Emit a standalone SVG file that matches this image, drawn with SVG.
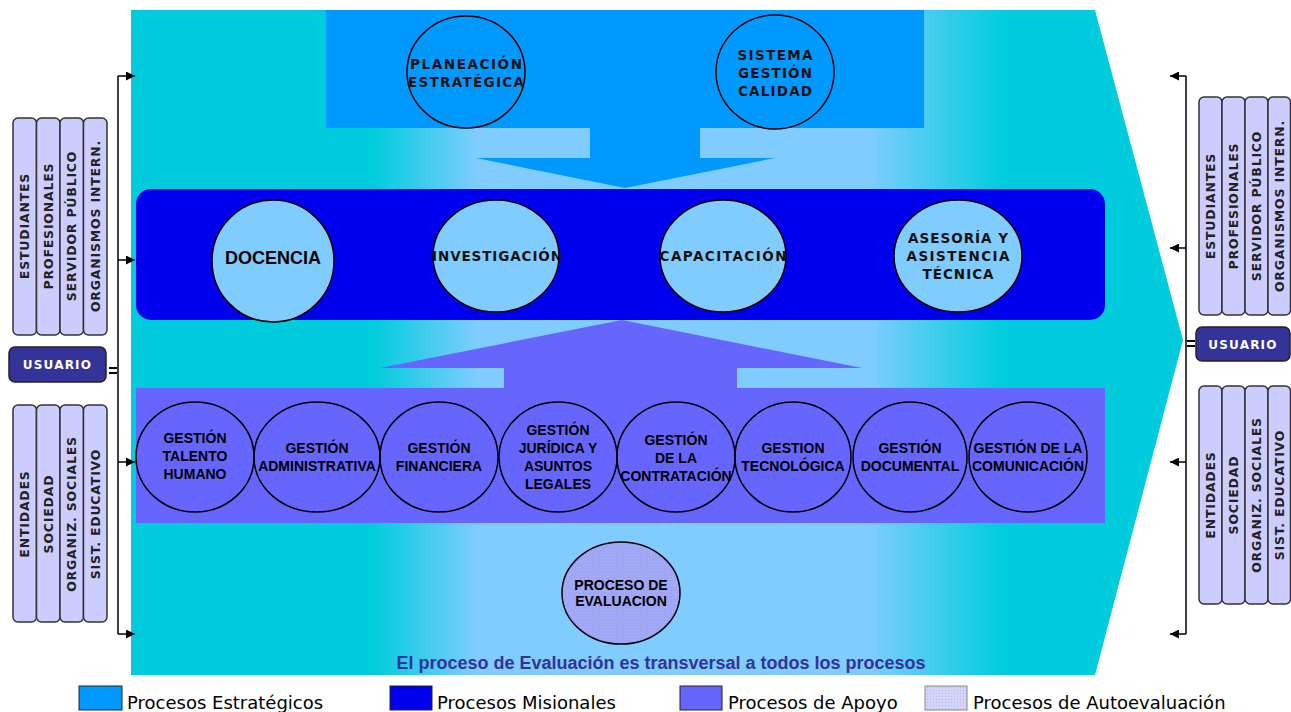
<svg xmlns="http://www.w3.org/2000/svg" width="1291" height="712" viewBox="0 0 1291 712">
<defs>
<linearGradient id="bg" x1="131" y1="0" x2="1183" y2="0" gradientUnits="userSpaceOnUse">
<stop offset="0" stop-color="#00CCDD"/>
<stop offset="0.23" stop-color="#00CCDD"/>
<stop offset="0.33" stop-color="#80CCFF"/>
<stop offset="0.70" stop-color="#80CCFF"/>
<stop offset="0.83" stop-color="#00CCDD"/>
<stop offset="1" stop-color="#00CCDD"/>
</linearGradient>
<pattern id="dots" width="3" height="3" patternUnits="userSpaceOnUse">
<rect width="3" height="3" fill="#A0A6F6"/>
<rect width="1" height="1" fill="#ABB0F8"/>
</pattern>
<pattern id="dots2" width="3" height="3" patternUnits="userSpaceOnUse">
<rect width="3" height="3" fill="#D4D4FA"/>
<rect width="1" height="1" fill="#B8B8F0"/>
</pattern>
<marker id="ah" viewBox="0 0 10 10" refX="10" refY="5" markerWidth="10" markerHeight="9" markerUnits="userSpaceOnUse" orient="auto">
<path d="M0,0 L10,5 L0,10 Z" fill="#000"/>
</marker>
</defs>
<style>
.circ{stroke:#000;stroke-width:1.5}
.vt{font-family:Verdana,"DejaVu Sans",sans-serif;font-weight:bold;font-size:13.5px;fill:#111;text-anchor:middle}
.at{font-family:"Liberation Sans",Arial,sans-serif;font-weight:bold;font-size:14px;fill:#000;text-anchor:middle}
.side{fill:#CCCCFF;stroke:#333;stroke-width:1.5}
.st{font-family:Verdana,"DejaVu Sans",sans-serif;font-weight:bold;font-size:12.5px;letter-spacing:0.8px;fill:#222;text-anchor:middle}
.usr{fill:#333399;stroke:#222;stroke-width:1.5}
.ut{font-family:Verdana,"DejaVu Sans",sans-serif;font-weight:bold;font-size:12px;letter-spacing:1.2px;fill:#fff;text-anchor:middle}
.lg{font-family:Tahoma,"DejaVu Sans",sans-serif;font-size:18px;fill:#000}
.conn{stroke:#000;stroke-width:1.5;fill:none}
</style>

<!-- background arrow -->
<g id="background">
<path d="M131,10 L1095,10 L1183,340 L1095,675 L131,675 Z" fill="url(#bg)"/>
</g>

<!-- strategic processes -->
<g id="estrategicos">
<rect x="326" y="10" width="598" height="118" fill="#0099FF"/>
<path d="M590,128 L700,128 L700,158 L775,158 L625,188 L476,158 L590,158 Z" fill="#0099FF"/>
</g>
<g id="planeacion">
<ellipse cx="466" cy="72" rx="59" ry="56" fill="#0099FF" class="circ"/>
<text class="vt" x="466" y="69" textLength="112" lengthAdjust="spacing">PLANEACIÓN</text>
<text class="vt" x="466" y="87" textLength="116" lengthAdjust="spacing">ESTRATÉGICA</text>
</g>
<g id="sistema">
<ellipse cx="775" cy="72" rx="59" ry="57" fill="#0099FF" class="circ"/>
<text class="vt" x="775" y="60" textLength="75" lengthAdjust="spacing">SISTEMA</text>
<text class="vt" x="775" y="78" textLength="74" lengthAdjust="spacing">GESTIÓN</text>
<text class="vt" x="775" y="96" textLength="74" lengthAdjust="spacing">CALIDAD</text>
</g>

<!-- mission processes -->
<g id="misionales">
<rect x="136" y="189" width="969" height="131" rx="15" fill="#0000EE"/>
</g>
<g id="docencia">
<ellipse cx="273" cy="261" rx="61" ry="61" fill="#80CCFF" class="circ"/>
<text x="273" y="264" text-anchor="middle" font-family="Liberation Sans, Arial, sans-serif" font-weight="bold" font-size="18" fill="#000">DOCENCIA</text>
</g>
<g id="investigacion">
<ellipse cx="496" cy="256" rx="63" ry="56" fill="#80CCFF" class="circ"/>
<text class="vt" x="497" y="261" textLength="130" lengthAdjust="spacing">INVESTIGACIÓN</text>
</g>
<g id="capacitacion">
<ellipse cx="723" cy="256" rx="63" ry="56" fill="#80CCFF" class="circ"/>
<text class="vt" x="723" y="261" textLength="127" lengthAdjust="spacing">CAPACITACIÓN</text>
</g>
<g id="asesoria">
<ellipse cx="958" cy="256" rx="64" ry="56" fill="#80CCFF" class="circ"/>
<text class="vt" x="958" y="243" textLength="100" lengthAdjust="spacing">ASESORÍA Y</text>
<text class="vt" x="958" y="261" textLength="103" lengthAdjust="spacing">ASISTENCIA</text>
<text class="vt" x="958" y="279" textLength="71" lengthAdjust="spacing">TÉCNICA</text>
</g>

<!-- support processes -->
<g id="apoyo">
<path d="M504,388 L504,368 L380,368 L622,320 L862,368 L737,368 L737,388 Z" fill="#6666FF"/>
<rect x="136" y="388" width="969" height="135" fill="#6666FF"/>
</g>
<g id="talento">
<ellipse cx="195" cy="457" rx="59" ry="55" fill="none" class="circ"/>
<text class="at" x="195" y="443">GESTIÓN</text>
<text class="at" x="195" y="461">TALENTO</text>
<text class="at" x="195" y="479">HUMANO</text>
</g>
<g id="administrativa">
<ellipse cx="317" cy="457" rx="63" ry="55" fill="none" class="circ"/>
<text class="at" x="317" y="453">GESTIÓN</text>
<text class="at" x="317" y="471">ADMINISTRATIVA</text>
</g>
<g id="financiera">
<ellipse cx="439" cy="457" rx="59" ry="55" fill="none" class="circ"/>
<text class="at" x="439" y="453">GESTIÓN</text>
<text class="at" x="439" y="471">FINANCIERA</text>
</g>
<g id="juridica">
<ellipse cx="558" cy="457" rx="59" ry="55" fill="none" class="circ"/>
<text class="at" x="558" y="435">GESTIÓN</text>
<text class="at" x="558" y="453">JURÍDICA Y</text>
<text class="at" x="558" y="471">ASUNTOS</text>
<text class="at" x="558" y="489">LEGALES</text>
</g>
<g id="contratacion">
<ellipse cx="676" cy="457" rx="59" ry="55" fill="none" class="circ"/>
<text class="at" x="676" y="445">GESTIÓN</text>
<text class="at" x="676" y="463">DE LA</text>
<text class="at" x="676" y="481">CONTRATACIÓN</text>
</g>
<g id="tecnologica">
<ellipse cx="793" cy="457" rx="58" ry="55" fill="none" class="circ"/>
<text class="at" x="793" y="453">GESTION</text>
<text class="at" x="793" y="471">TECNOLÓGICA</text>
</g>
<g id="documental">
<ellipse cx="910" cy="457" rx="57" ry="55" fill="none" class="circ"/>
<text class="at" x="910" y="453">GESTIÓN</text>
<text class="at" x="910" y="471">DOCUMENTAL</text>
</g>
<g id="comunicacion">
<ellipse cx="1028" cy="457" rx="59" ry="55" fill="none" class="circ"/>
<text class="at" x="1028" y="453">GESTIÓN DE LA</text>
<text class="at" x="1028" y="471">COMUNICACIÓN</text>
</g>

<!-- evaluation -->
<g id="evaluacion">
<ellipse cx="621" cy="593" rx="59" ry="51" fill="url(#dots)" class="circ"/>
<text class="at" x="621" y="590">PROCESO DE</text>
<text class="at" x="621" y="606">EVALUACION</text>
</g>
<g id="nota">
<text x="661" y="669" text-anchor="middle" font-family="Liberation Sans, Arial, sans-serif" font-weight="bold" font-size="18" fill="#333399">El proceso de Evaluación es transversal a todos los procesos</text>
</g>

<!-- left users -->
<g id="usuarios-izq-1">
<rect class="side" x="13" y="118" width="23.5" height="217" rx="5"/>
<rect class="side" x="36.5" y="118" width="23.5" height="217" rx="5"/>
<rect class="side" x="60" y="118" width="23.5" height="217" rx="5"/>
<rect class="side" x="83.5" y="118" width="23.5" height="217" rx="5"/>
<text class="st" transform="translate(29,226) rotate(-90)">ESTUDIANTES</text>
<text class="st" transform="translate(52.5,226) rotate(-90)">PROFESIONALES</text>
<text class="st" transform="translate(76,226) rotate(-90)">SERVIDOR PÚBLICO</text>
<text class="st" transform="translate(99.5,226) rotate(-90)">ORGANISMOS INTERN.</text>
</g>
<g id="usuario-izq">
<rect class="usr" x="9" y="347" width="97" height="35" rx="6"/>
<text class="ut" x="57.5" y="369">USUARIO</text>
</g>
<g id="usuarios-izq-2">
<rect class="side" x="13" y="405" width="23.5" height="217" rx="5"/>
<rect class="side" x="36.5" y="405" width="23.5" height="217" rx="5"/>
<rect class="side" x="60" y="405" width="23.5" height="217" rx="5"/>
<rect class="side" x="83.5" y="405" width="23.5" height="217" rx="5"/>
<text class="st" transform="translate(29,514) rotate(-90)">ENTIDADES</text>
<text class="st" transform="translate(52.5,514) rotate(-90)">SOCIEDAD</text>
<text class="st" transform="translate(76,514) rotate(-90)">ORGANIZ. SOCIALES</text>
<text class="st" transform="translate(99.5,514) rotate(-90)">SIST. EDUCATIVO</text>
</g>

<!-- right users -->
<g id="usuarios-der-1">
<rect class="side" x="1199" y="97" width="23" height="218" rx="5"/>
<rect class="side" x="1222" y="97" width="23" height="218" rx="5"/>
<rect class="side" x="1245" y="97" width="23" height="218" rx="5"/>
<rect class="side" x="1268" y="97" width="22.5" height="218" rx="5"/>
<text class="st" transform="translate(1215,206) rotate(-90)">ESTUDIANTES</text>
<text class="st" transform="translate(1238,206) rotate(-90)">PROFESIONALES</text>
<text class="st" transform="translate(1261,206) rotate(-90)">SERVIDOR PÚBLICO</text>
<text class="st" transform="translate(1284,206) rotate(-90)">ORGANISMOS INTERN.</text>
</g>
<g id="usuario-der">
<rect class="usr" x="1196" y="327" width="94" height="34" rx="6"/>
<text class="ut" x="1243" y="349">USUARIO</text>
</g>
<g id="usuarios-der-2">
<rect class="side" x="1199" y="386" width="23" height="218" rx="5"/>
<rect class="side" x="1222" y="386" width="23" height="218" rx="5"/>
<rect class="side" x="1245" y="386" width="23" height="218" rx="5"/>
<rect class="side" x="1268" y="386" width="22.5" height="218" rx="5"/>
<text class="st" transform="translate(1215,495) rotate(-90)">ENTIDADES</text>
<text class="st" transform="translate(1238,495) rotate(-90)">SOCIEDAD</text>
<text class="st" transform="translate(1261,495) rotate(-90)">ORGANIZ. SOCIALES</text>
<text class="st" transform="translate(1284,495) rotate(-90)">SIST. EDUCATIVO</text>
</g>

<!-- connectors -->
<g id="connectors">
<line class="conn" x1="118" y1="76" x2="118" y2="634"/>
<line class="conn" x1="118" y1="76" x2="135" y2="76" marker-end="url(#ah)"/>
<line class="conn" x1="118" y1="260" x2="135" y2="260" marker-end="url(#ah)"/>
<line class="conn" x1="118" y1="462" x2="135" y2="462" marker-end="url(#ah)"/>
<line class="conn" x1="118" y1="634" x2="135" y2="634" marker-end="url(#ah)"/>
<line x1="109" y1="368" x2="117" y2="368" stroke="#000" stroke-width="2"/>
<line x1="109" y1="373" x2="117" y2="373" stroke="#000" stroke-width="2"/>
<line class="conn" x1="1186" y1="76" x2="1186" y2="634"/>
<line class="conn" x1="1186" y1="76" x2="1170" y2="76" marker-end="url(#ah)"/>
<line class="conn" x1="1186" y1="248" x2="1170" y2="248" marker-end="url(#ah)"/>
<line class="conn" x1="1186" y1="462" x2="1170" y2="462" marker-end="url(#ah)"/>
<line class="conn" x1="1186" y1="634" x2="1170" y2="634" marker-end="url(#ah)"/>
<line x1="1187" y1="341" x2="1195" y2="341" stroke="#000" stroke-width="2"/>
<line x1="1187" y1="346" x2="1195" y2="346" stroke="#000" stroke-width="2"/>
</g>

<!-- legend -->
<g id="legend">
<rect x="79" y="686" width="43" height="24" fill="#0099FF" stroke="#222" stroke-width="1"/>
<text class="lg" x="127" y="709">Procesos Estratégicos</text>
<rect x="390" y="686" width="42" height="24" fill="#0000EE" stroke="#222" stroke-width="1"/>
<text class="lg" x="437" y="709">Procesos Misionales</text>
<rect x="680" y="686" width="42" height="24" fill="#6666FF" stroke="#222" stroke-width="1"/>
<text class="lg" x="728" y="709">Procesos de Apoyo</text>
<rect x="925" y="686" width="42" height="24" fill="url(#dots2)" stroke="#888" stroke-width="1"/>
<text class="lg" x="973" y="709">Procesos de Autoevaluación</text>
</g>
</svg>
